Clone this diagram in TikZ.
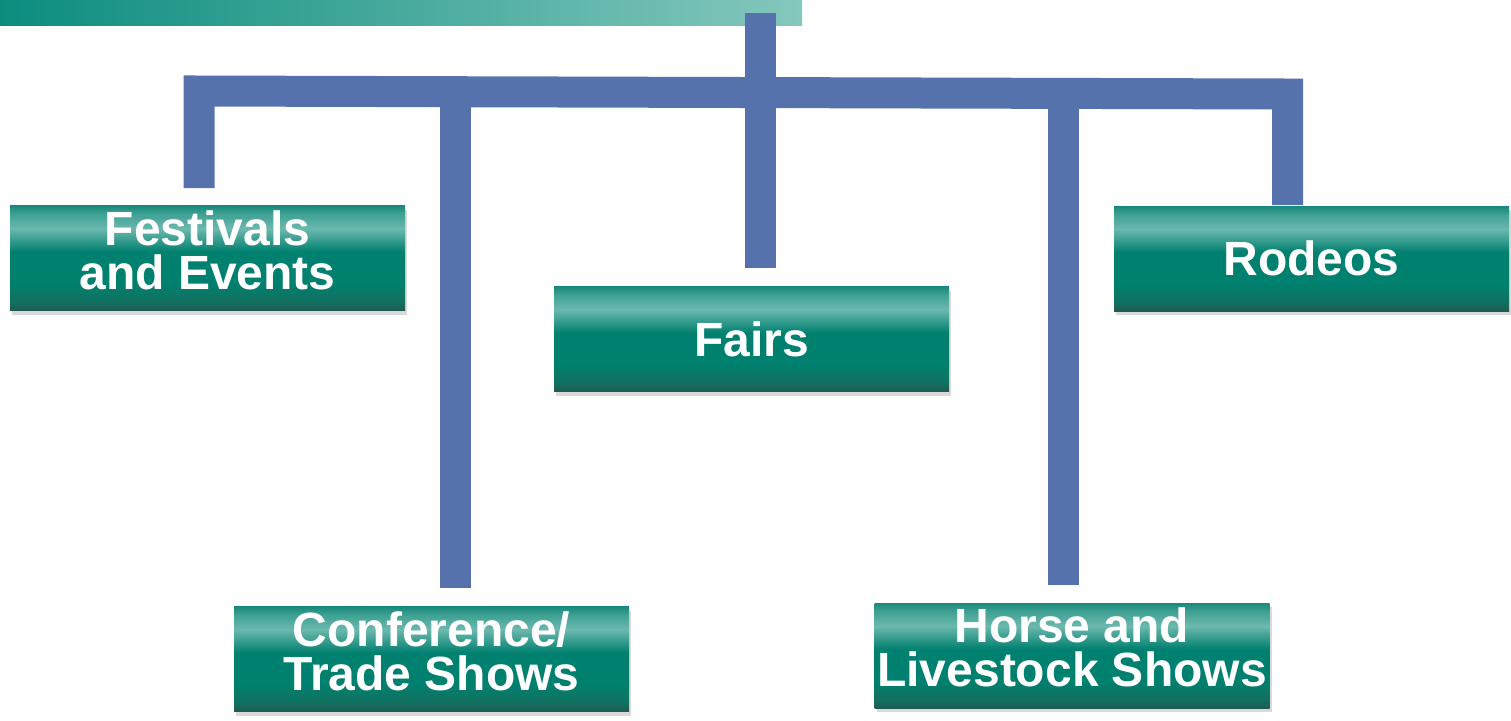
\documentclass[tikz,border=0pt]{standalone}
\usepackage{fontspec}
\setmainfont{Liberation Sans}
\usetikzlibrary{shadows}

\definecolor{branchblue}{HTML}{5572AD}
\definecolor{tealdark}{HTML}{1E5B55}
\definecolor{tealshade}{HTML}{13705F}
\definecolor{tealmid}{HTML}{00806F}
\definecolor{teallight}{HTML}{6CB8AE}
\definecolor{tealglow}{HTML}{3FA193}
\definecolor{tealedge}{HTML}{17897B}
\definecolor{stripestart}{HTML}{0B8D7E}
\definecolor{stripeend}{HTML}{84C7BD}

% glossy band on the boxes, bottom to top
\pgfdeclareverticalshading{tealbox}{100bp}{color(0bp)=(tealdark); color(25bp)=(tealdark);
  color(29bp)=(tealshade); color(38bp)=(tealmid); color(53bp)=(tealmid);
  color(64bp)=(teallight); color(71bp)=(tealglow); color(75bp)=(tealedge);
  color(100bp)=(tealedge)}

\begin{document}
\begin{tikzpicture}[x=0.5pt, y=-0.5pt,
    box/.style={
    shading=tealbox,
    drop shadow={shadow xshift=1pt, shadow yshift=-2pt, opacity=.3},
    minimum width=197.5pt,
    minimum height=52.5pt,
    inner sep=0pt,
    align=center,
    text=white,
    font=\bfseries\fontsize{24}{22}\selectfont},
    twoline/.style={text depth=8pt},
    branch/.style={
    draw=branchblue,
    line width=15.5pt,
    miter limit=10}]

    \useasboundingbox (0,0) rectangle (1511,720);

    % stripe along the top
    \shade[left color=stripestart, right color=stripeend] (0,0) rectangle (802,25);

    \node[box, twoline] (fest) at (207.5,258) {Festivals\\and Events};
    \node[box] (fairs) at (751.5,339) {Fairs};
    \node[box] (rodeos) at (1311.5,258.5) {Rodeos};
    \node[box, twoline] (conf) at (431.5,659) {Conference/\\Trade Shows};
    \node[box, twoline] (horse) at (1072,655.5) {Horse and\\Livestock Shows};

    % ends of the branches
    \coordinate (root) at (760.5,13);
    \coordinate (festEnd) at (199,188);
    \coordinate (confEnd) at (455.5,588);
    \coordinate (fairsEnd) at (760.5,268);
    \coordinate (horseEnd) at (1063.5,585);
    \coordinate (rodeosEnd) at (1287.5,205);

    \coordinate (barL) at (199,91);
    \coordinate (barR) at (1287.5,94);

    \draw[branch] (festEnd) -- (barL) -- (barR) -- (rodeosEnd);
    \draw[branch] (root) -- (fairsEnd);
    \draw[branch] (455.5,91.7) -- (confEnd);
    \draw[branch] (1063.5,93.5) -- (horseEnd);
\end{tikzpicture}
\end{document}
